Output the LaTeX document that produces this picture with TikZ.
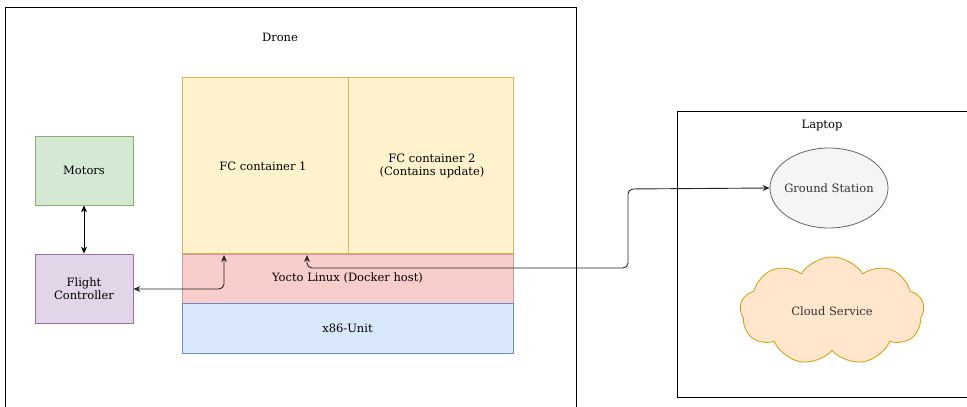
\documentclass[tikz,border=0pt]{standalone}
\usepackage{fontspec}
\setmainfont{DejaVu Serif}
\usetikzlibrary{shapes.geometric,shapes.symbols,arrows.meta}
\definecolor{ylwF}{HTML}{FFF2CC}\definecolor{ylwD}{HTML}{D6B656}
\definecolor{redF}{HTML}{F8CECC}\definecolor{redD}{HTML}{B85450}
\definecolor{bluF}{HTML}{DAE8FC}\definecolor{bluD}{HTML}{6C8EBF}
\definecolor{grnF}{HTML}{D5E8D4}\definecolor{grnD}{HTML}{82B366}
\definecolor{prpF}{HTML}{E1D5E7}\definecolor{prpD}{HTML}{9673A6}
\definecolor{gryF}{HTML}{F5F5F5}\definecolor{gryD}{HTML}{666666}\definecolor{gryT}{HTML}{333333}
\definecolor{orgF}{HTML}{FFE6CC}\definecolor{orgD}{HTML}{D79B00}
\begin{document}
\begin{tikzpicture}[x=1pt,y=-1pt,
  font=\fontsize{11.5}{13.5}\selectfont,
  box/.style={draw, line width=0.8pt, inner sep=0pt, align=center},
  frame/.style={draw=black, line width=0.9pt},
  link/.style={draw=black!85, line width=0.9pt, rounded corners=5pt, {Stealth[length=7pt,width=6pt]}-{Stealth[length=7pt,width=6pt]}},
  dlink/.style={draw=black, line width=0.9pt, {Stealth[length=7pt,width=6pt]}-{Stealth[length=7pt,width=6pt]}}]
\useasboundingbox (0,0) rectangle (967,407);
% frames
\draw[frame] (5,420) -- (5,7) -- (576,7) -- (576,420);
\draw[frame] (990,111) -- (677,111) -- (677,397) -- (990,397);
\node (drone) at (280,37) {Drone};
\node (laptop) at (822,126) {Laptop};
% blocks
\node[box, fill=ylwF, draw=ylwD, minimum width=166pt, minimum height=177pt] (fc1) at (265,165.5) {};
\node (fc1t) at (263,166) {FC container 1};
\node[box, fill=ylwF, draw=ylwD, minimum width=165pt, minimum height=177pt] (fc2) at (430.5,165.5) {};
\node[align=center] (fc2t) at (432,166) {FC container 2\\(Contains update)};
\node[box, fill=redF, draw=redD!60, minimum width=331pt, minimum height=49pt] (yocto) at (347.5,278.5) {Yocto Linux (Docker host)};
\node[box, fill=bluF, draw=bluD, minimum width=331pt, minimum height=50pt] (x86) at (347.5,328) {x86-Unit};
\draw[ylwD, line width=0.8pt] (yocto.north west) -- (yocto.north east);
\node[box, fill=grnF, draw=grnD, minimum width=98pt, minimum height=69pt] (motors) at (84,170.5) {Motors};
\node[box, fill=prpF, draw=prpD, minimum width=98pt, minimum height=69pt] (fcl) at (84,288.5) {Flight\\Controller};
\node[ellipse, draw=gryD, fill=gryF, line width=0.8pt, minimum width=118pt, minimum height=80pt, inner sep=0pt] (gs) at (829,188) {};
\node[text=gryT] (gst) at (gs.center) {Ground Station};
\node[cloud, cloud puffs=9, cloud puff arc=115, aspect=1.7, draw=orgD, fill=orgF, line width=0.8pt, text=gryT, minimum width=184pt, minimum height=108pt, inner sep=0pt] (cloud) at (832,311) {Cloud Service};
% connectors
\coordinate (c1) at (224,255);
\coordinate (c2) at (307,255);
\draw[dlink] (motors.south) -- (fcl.north);
\draw[link] (fcl.east |- 0,289) -- (224,289) -- (c1);
\draw[link] (c2) -- (307,268) -- (628,268) -- (628,189) -- (gs.west);
\end{tikzpicture}
\end{document}
